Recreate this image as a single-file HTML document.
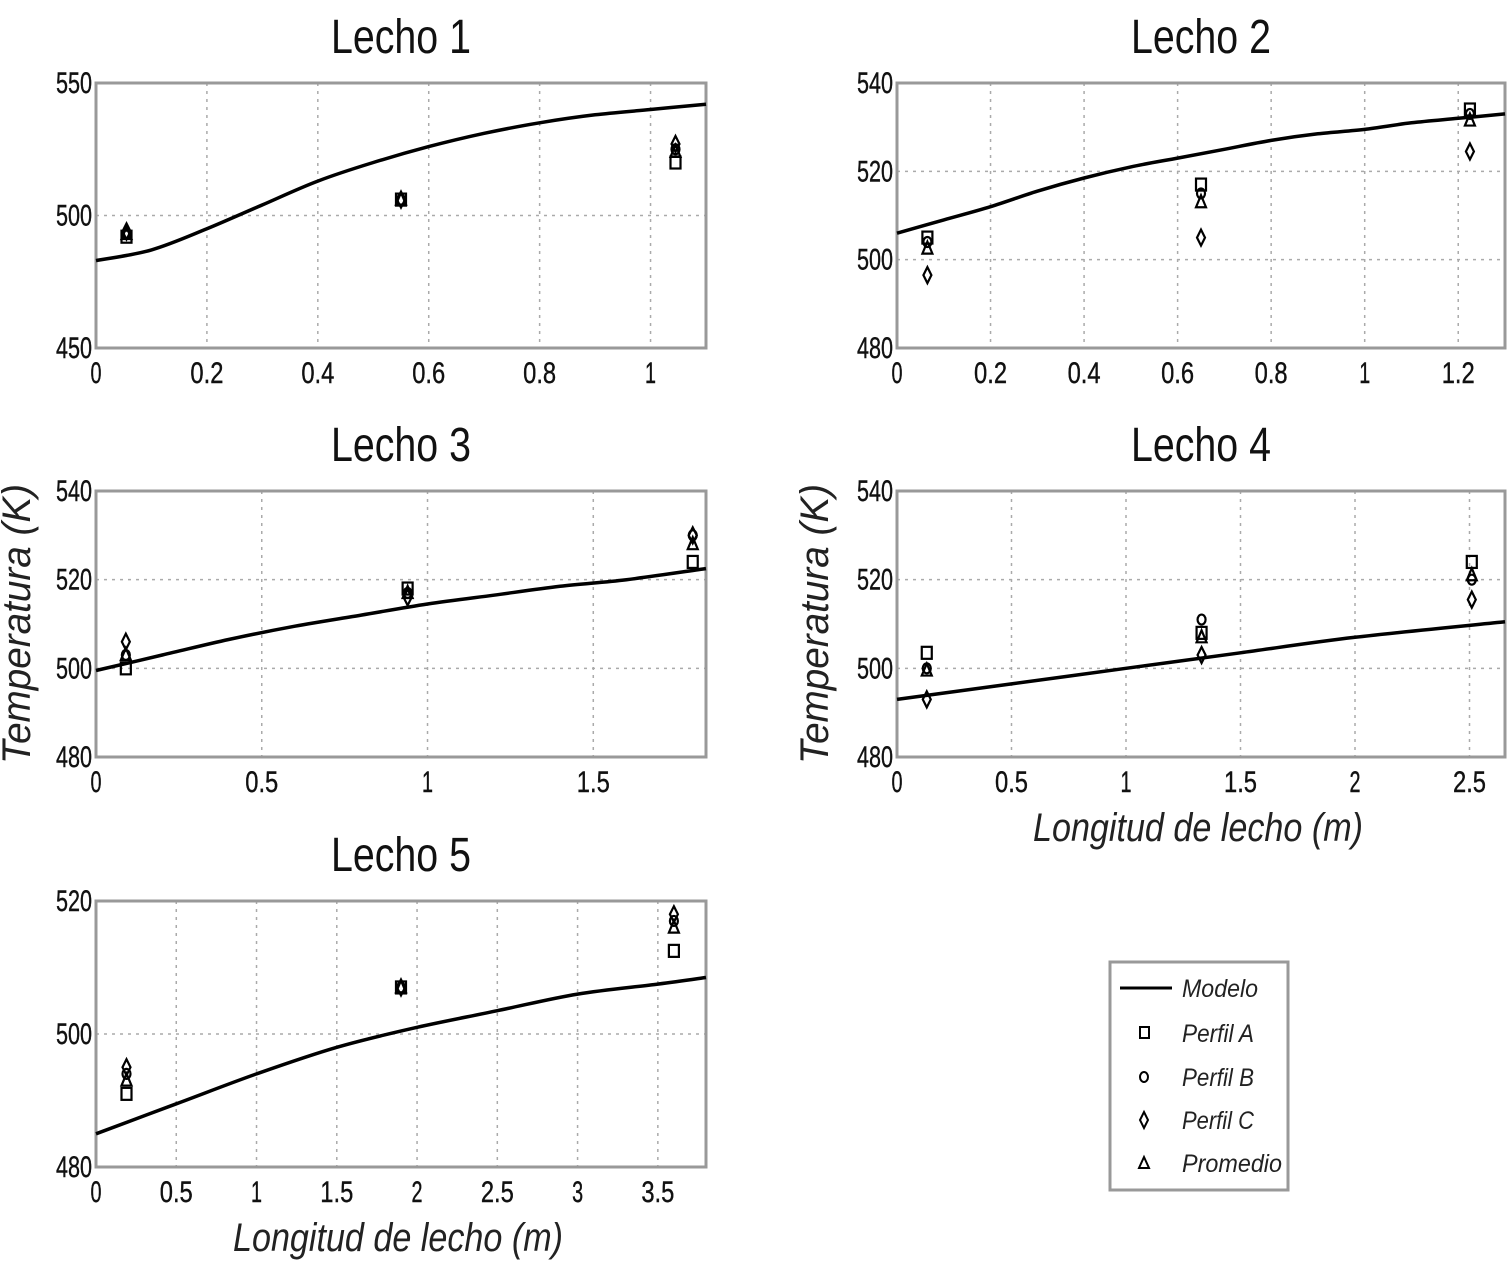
<!DOCTYPE html>
<html><head><meta charset="utf-8"><style>
html,body{margin:0;padding:0;background:#fff;}
svg{display:block;font-family:"Liberation Sans",sans-serif;}
</style></head><body>
<svg id="fig" width="1510" height="1261" viewBox="0 0 1510 1261" xmlns="http://www.w3.org/2000/svg">
<rect x="0" y="0" width="1510" height="1261" fill="#fff"/>
<g id="legend">
<rect x="1110" y="962" width="178" height="228" fill="#fff" stroke="#999" stroke-width="3"/>
<line x1="1120" y1="988" x2="1172" y2="988" stroke="#000" stroke-width="3"/>
<text x="1182" y="997" font-size="25" font-style="italic" textLength="76" lengthAdjust="spacingAndGlyphs" fill="#222">Modelo</text>
<rect x="1140" y="1027" width="9" height="11" fill="none" stroke="#000" stroke-width="2"/>
<text x="1182" y="1042" font-size="25" font-style="italic" textLength="72" lengthAdjust="spacingAndGlyphs" fill="#222">Perfil A</text>
<ellipse cx="1144" cy="1077" rx="4" ry="5" fill="none" stroke="#000" stroke-width="2"/>
<text x="1182" y="1086" font-size="25" font-style="italic" textLength="72" lengthAdjust="spacingAndGlyphs" fill="#222">Perfil B</text>
<path d="M1144 1112 L1148 1120 L1144 1128 L1140 1120 Z" fill="none" stroke="#000" stroke-width="2"/>
<text x="1182" y="1129" font-size="25" font-style="italic" textLength="72" lengthAdjust="spacingAndGlyphs" fill="#222">Perfil C</text>
<path d="M1144 1157 L1149 1168 L1139 1168 Z" fill="none" stroke="#000" stroke-width="2"/>
<text x="1182" y="1172" font-size="25" font-style="italic" textLength="100" lengthAdjust="spacingAndGlyphs" fill="#222">Promedio</text>
</g>
</svg>
<script>
// ---- data ----
const titles = ["Lecho 1","Lecho 2","Lecho 3","Lecho 4","Lecho 5"];
const xTicks1 = [0,0.2,0.4,0.6,0.8,1];
const xTicks2 = [0,0.2,0.4,0.6,0.8,1,1.2];
const xTicks3 = [0,0.5,1,1.5];
const xTicks4 = [0,0.5,1,1.5,2,2.5];
const xTicks5 = [0,0.5,1,1.5,2,2.5,3,3.5];
const yTicks1 = [450,500,550];
const yTicks2 = [480,500,520,540];
const yTicks3 = [480,500,520,540];
const yTicks4 = [480,500,520,540];
const yTicks5 = [480,500,520];
const xMax = [1.1,1.3,1.84,2.655,3.8];
// model curves
const modelX1 = [0,0.1,0.2,0.3,0.4,0.5,0.6,0.7,0.8,0.9,1.0,1.1];
const modelY1 = [483,487,495,504,513,520,526,531,535,538,540,542];
const modelX2 = [0,0.1,0.2,0.3,0.4,0.5,0.6,0.7,0.8,0.9,1.0,1.1,1.2,1.3];
const modelY2 = [506,509,512,515.5,518.5,521,523,525,527,528.5,529.5,531,532,533];
const modelX3 = [0,0.2,0.4,0.6,0.8,1.0,1.2,1.4,1.6,1.84];
const modelY3 = [499.5,503,506.5,509.5,512,514.5,516.5,518.5,520,522.5];
const modelX4 = [0,0.5,1,1.5,2,2.655];
const modelY4 = [493,496.5,500,503.5,507,510.5];
const modelX5 = [0,0.5,1,1.5,2,2.5,3,3.5,3.8];
const modelY5 = [485,489.5,494,498,501,503.5,506,507.5,508.5];
// measurement positions and values
const measX1 = [0.055,0.55,1.045];
const perfilA1 = [492,506,520]; const perfilB1 = [493,506,525]; const perfilC1 = [494,506,527]; const prom1 = [493,506,524];
const measX2 = [0.065,0.65,1.225];
const perfilA2 = [505,517,534]; const perfilB2 = [504,515,533]; const perfilC2 = [496.5,505,524.5]; const prom2 = [502.5,513,531.5];
const measX3 = [0.09,0.94,1.8];
const perfilA3 = [500,518,524]; const perfilB3 = [503,517,530]; const perfilC3 = [506,516,530]; const prom3 = [503,517,528];
const measX4 = [0.13,1.33,2.51];
const perfilA4 = [503.5,508,524]; const perfilB4 = [500,511,520]; const perfilC4 = [493,503,515.5]; const prom4 = [499.5,507,521];
const measX5 = [0.19,1.9,3.6];
const perfilA5 = [491,507,512.5]; const perfilB5 = [494,507,517]; const perfilC5 = [495,507,518]; const prom5 = [493,507,516];

const NS = "http://www.w3.org/2000/svg";
const svg = document.getElementById("fig");
function mk(tag, attrs, parent){ const e=document.createElementNS(NS,tag); for(const k in attrs) e.setAttribute(k,attrs[k]); (parent||svg).appendChild(e); return e; }

const boxes = [
  {l:96,r:706,t:83,b:348},
  {l:897,r:1505,t:83,b:348},
  {l:96,r:706,t:491,b:757},
  {l:897,r:1505,t:491,b:757},
  {l:96,r:706,t:901,b:1167}
];
const panels = [
  {xt:xTicks1,yt:yTicks1,mx:modelX1,my:modelY1,px:measX1,A:perfilA1,B:perfilB1,C:perfilC1,P:prom1},
  {xt:xTicks2,yt:yTicks2,mx:modelX2,my:modelY2,px:measX2,A:perfilA2,B:perfilB2,C:perfilC2,P:prom2},
  {xt:xTicks3,yt:yTicks3,mx:modelX3,my:modelY3,px:measX3,A:perfilA3,B:perfilB3,C:perfilC3,P:prom3},
  {xt:xTicks4,yt:yTicks4,mx:modelX4,my:modelY4,px:measX4,A:perfilA4,B:perfilB4,C:perfilC4,P:prom4},
  {xt:xTicks5,yt:yTicks5,mx:modelX5,my:modelY5,px:measX5,A:perfilA5,B:perfilB5,C:perfilC5,P:prom5}
];

function smoothPath(pts){
  let d="M"+pts[0][0].toFixed(1)+" "+pts[0][1].toFixed(1);
  for(let k=0;k<pts.length-1;k++){
    const p0=pts[k-1]||pts[k], p1=pts[k], p2=pts[k+1], p3=pts[k+2]||p2;
    const c1=[p1[0]+(p2[0]-p0[0])/6, p1[1]+(p2[1]-p0[1])/6];
    const c2=[p2[0]-(p3[0]-p1[0])/6, p2[1]-(p3[1]-p1[1])/6];
    d+=` C${c1[0].toFixed(1)} ${c1[1].toFixed(1)} ${c2[0].toFixed(1)} ${c2[1].toFixed(1)} ${p2[0].toFixed(1)} ${p2[1].toFixed(1)}`;
  }
  return d;
}

panels.forEach((p,i)=>{
  const bx=boxes[i];
  const y0=p.yt[0], y1=p.yt[p.yt.length-1];
  const X=v=>bx.l+(v/xMax[i])*(bx.r-bx.l);
  const Y=v=>bx.b-(v-y0)/(y1-y0)*(bx.b-bx.t);
  const g=mk("g",{});
  
  
  const t=mk("text",{x:(bx.l+bx.r)/2,y:bx.t-30,"font-size":48,"text-anchor":"middle",textLength:140,lengthAdjust:"spacingAndGlyphs",fill:"#111"},g);
  t.textContent=titles[i];
  
  
  p.xt.forEach(v=>{ if(v>0){ const l=mk("line",{x1:X(v),x2:X(v),y1:bx.t,y2:bx.b,stroke:"#aaa","stroke-width":1.5,"stroke-dasharray":"3,5"},g);
    
     }
    const tl=mk("text",{x:X(v),y:bx.b+35,"font-size":30,"text-anchor":"middle",textLength:String(v).length*11,lengthAdjust:"spacingAndGlyphs",fill:"#111",stroke:"#111","stroke-width":0.4},g);
    tl.textContent=String(v);
    
    
  });
  p.yt.forEach(v=>{ if(v>y0&&v<y1){ const l=mk("line",{x1:bx.l,x2:bx.r,y1:Y(v),y2:Y(v),stroke:"#aaa","stroke-width":1.5,"stroke-dasharray":"3,5"},g);
    
     }
    const tl=mk("text",{x:bx.l-4,y:Y(v)+10,"font-size":30,"text-anchor":"end",textLength:36,lengthAdjust:"spacingAndGlyphs",fill:"#111",stroke:"#111","stroke-width":0.4},g);
    tl.textContent=String(v);
    
    
  });
  const fr=mk("rect",{x:bx.l,y:bx.t,width:bx.r-bx.l,height:bx.b-bx.t,fill:"none",stroke:"#999","stroke-width":3},g);
  
  
  const pts=p.mx.map((x,k)=>[X(x),Y(p.my[k])]);
  const ml=mk("path",{d:smoothPath(pts),fill:"none",stroke:"#000","stroke-width":3.5,"stroke-linejoin":"round"},g);
  
  
  p.px.forEach((x,k)=>{
    const cx=X(x);
    let y=Y(p.A[k]);
    const a=mk("rect",{x:cx-5,y:y-6,width:10,height:12,fill:"none",stroke:"#000","stroke-width":2.2},g);
    
    
    y=Y(p.B[k]);
    const b=mk("ellipse",{cx:cx,cy:y,rx:4,ry:5,fill:"none",stroke:"#000","stroke-width":2.2},g);
    
    
    y=Y(p.C[k]);
    const c=mk("path",{d:`M${cx} ${y-8} L${cx+4} ${y} L${cx} ${y+8} L${cx-4} ${y} Z`,fill:"none",stroke:"#000","stroke-width":2.2},g);
    
    
    y=Y(p.P[k]);
    const pr=mk("path",{d:`M${cx} ${y-7} L${cx+5} ${y+5} L${cx-5} ${y+5} Z`,fill:"none",stroke:"#000","stroke-width":2.2},g);
    
    
  });
});
[[30,624],[828,624]].forEach(([x,y])=>{
  const t=mk("text",{x:0,y:0,transform:`translate(${x},${y}) rotate(-90)`,"font-size":40,"font-style":"italic","text-anchor":"middle",textLength:280,lengthAdjust:"spacingAndGlyphs",fill:"#222"});
  t.textContent="Temperatura (K)";
  
  
});
[[1198,841],[398,1251]].forEach(([x,y])=>{
  const t=mk("text",{x:x,y:y,"font-size":40,"font-style":"italic","text-anchor":"middle",textLength:330,lengthAdjust:"spacingAndGlyphs",fill:"#222"});
  t.textContent="Longitud de lecho (m)";
  
  
});
</script>
</body></html>
